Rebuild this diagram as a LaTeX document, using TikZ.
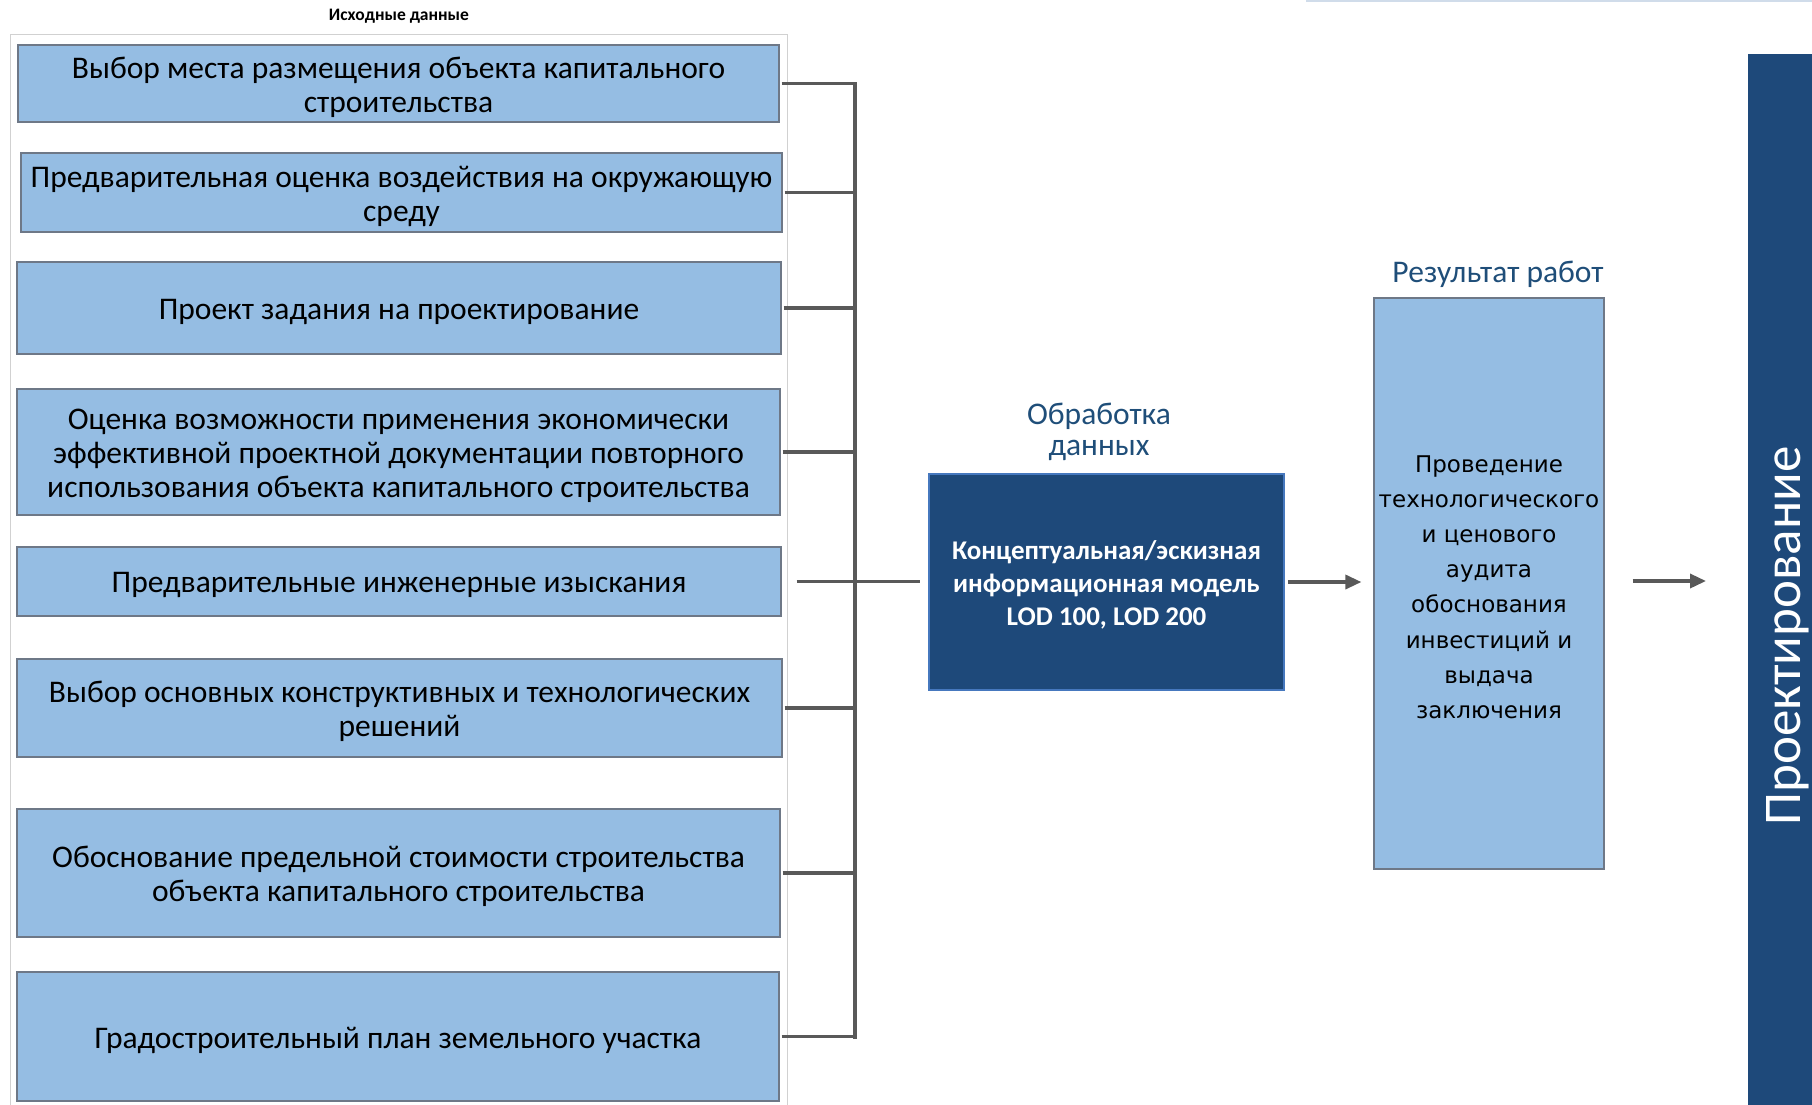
\documentclass[tikz,border=0pt]{standalone}
\usepackage{fontspec}
\setmainfont{Carlito}
\newfontfamily\widefont{DejaVu Sans}
\usetikzlibrary{arrows.meta}
\definecolor{lightblue}{RGB}{149,189,227}
\definecolor{darkblue}{RGB}{30,73,122}
\definecolor{headblue}{RGB}{31,78,121}
\definecolor{linegray}{RGB}{89,89,89}
\definecolor{edgegray}{RGB}{110,120,135}
\definecolor{modeledge}{RGB}{70,120,190}
\definecolor{toprule}{RGB}{208,220,234}
\tikzset{
  srcbox/.style={draw=edgegray, line width=1.2pt, fill=lightblue, rectangle, inner sep=0pt},
  srctext/.style={align=center, inner sep=0pt, yshift=-3.5pt,
    font=\fontsize{31.5}{34}\selectfont},
  modelbox/.style={draw=modeledge, line width=1.5pt, fill=darkblue, inner sep=0pt},
  modeltext/.style={text=white, align=center, inner sep=0pt, yshift=-3pt,
    font=\bfseries\fontsize{27}{33}\selectfont},
  resbox/.style={draw=edgegray, line width=1.2pt, fill=lightblue, inner sep=0pt},
  restext/.style={align=center, inner sep=0pt, yshift=-3.5pt,
    font=\widefont\fontsize{23}{35.2}\selectfont},
  heading/.style={text=headblue, align=center, font=\fontsize{31.5}{31}\selectfont},
  bus/.style={draw=linegray, line width=3.4pt},
  feed/.style={draw=linegray, line width=3.4pt, -{Triangle[length=16pt,width=14pt]}}
}
\begin{document}
\begin{tikzpicture}[x=1pt, y=-1pt]
\useasboundingbox (0,0) rectangle (1812,1104);

% faint rule along the top edge
\draw[draw=toprule, line width=1.5pt] (1306,0.8) -- (1812,0.8);

% container for the source data
\draw[draw=black!18, line width=1pt] (10,1120) -- (10,34) -- (787,34) -- (787,1120);
\node[font=\bfseries\fontsize{17.5}{19}\selectfont] (title) at (399,16) {Исходные данные};

% source data boxes
\node[srcbox, minimum width=761pt, minimum height=77pt,
  label={[srctext]center:{Выбор места размещения объекта капитального\\строительства}}]
  (b1) at (398.5,83.5) {};
\node[srcbox, minimum width=761pt, minimum height=79pt,
  label={[srctext]center:{Предварительная оценка воздействия на окружающую\\среду}}]
  (b2) at (401.5,192.5) {};
\node[srcbox, minimum width=764pt, minimum height=92pt,
  label={[srctext]center:{Проект задания на проектирование}}]
  (b3) at (399,308) {};
\node[srcbox, minimum width=763pt, minimum height=126pt,
  label={[srctext]center:{Оценка возможности применения экономически\\эффективной проектной документации повторного\\использования объекта капитального строительства}}]
  (b4) at (398.5,452) {};
\node[srcbox, minimum width=764pt, minimum height=69pt,
  label={[srctext]center:{Предварительные инженерные изыскания}}]
  (b5) at (399,581.5) {};
\node[srcbox, minimum width=765pt, minimum height=98pt,
  label={[srctext]center:{Выбор основных конструктивных и технологических\\решений}}]
  (b6) at (399.5,708) {};
\node[srcbox, minimum width=763pt, minimum height=128pt,
  label={[srctext]center:{Обоснование предельной стоимости строительства\\объекта капитального строительства}}]
  (b7) at (398.5,873) {};
\node[srcbox, minimum width=762pt, minimum height=129pt,
  label={[srctext]center:{Градостроительный план земельного участка}}]
  (b8) at (398,1036.5) {};

% processing block
\node[heading] (proc) at (1099,432) {Обработка\\данных};
\node[modelbox, minimum width=355pt, minimum height=216pt,
  label={[modeltext]center:{Концептуальная/эскизная\\информационная модель\\LOD 100, LOD 200}}]
  (model) at (1106.5,582) {};

% result block
\node[heading] (restitle) at (1498,274) {Результат работ};
\node[resbox, minimum width=230pt, minimum height=571pt,
  label={[restext]center:{Проведение\\технологического\\и ценового\\аудита\\обоснования\\инвестиций и\\выдача\\заключения}}]
  (result) at (1489,583.5) {};

% design stage band
\fill[darkblue] (1748,54) rectangle (1812,1110);
\node[rotate=90, text=white, font=\fontsize{53}{58}\selectfont] (design) at (1788,636)
  {Проектирование};

% collecting bus
\coordinate (bustop) at (855,84);
\coordinate (busbot) at (855,1037);
\draw[bus, line cap=rect] (bustop) -- (busbot);
\foreach \b in {b1,b2,b3,b4,b6,b7,b8}
  \draw[bus] ([xshift=2pt]\b.east) -- (\b.east -| bustop);
\draw[bus] ([xshift=15pt]b5.east) -- ([xshift=-8pt]model.west |- b5.east);

% flow arrows
\draw[feed] ([xshift=3pt]model.east) -- ([xshift=-12pt]result.west |- model.east);
\coordinate (next) at (1706,581);
\draw[feed] ([xshift=28pt]result.east |- next) -- (next);
\end{tikzpicture}
\end{document}
